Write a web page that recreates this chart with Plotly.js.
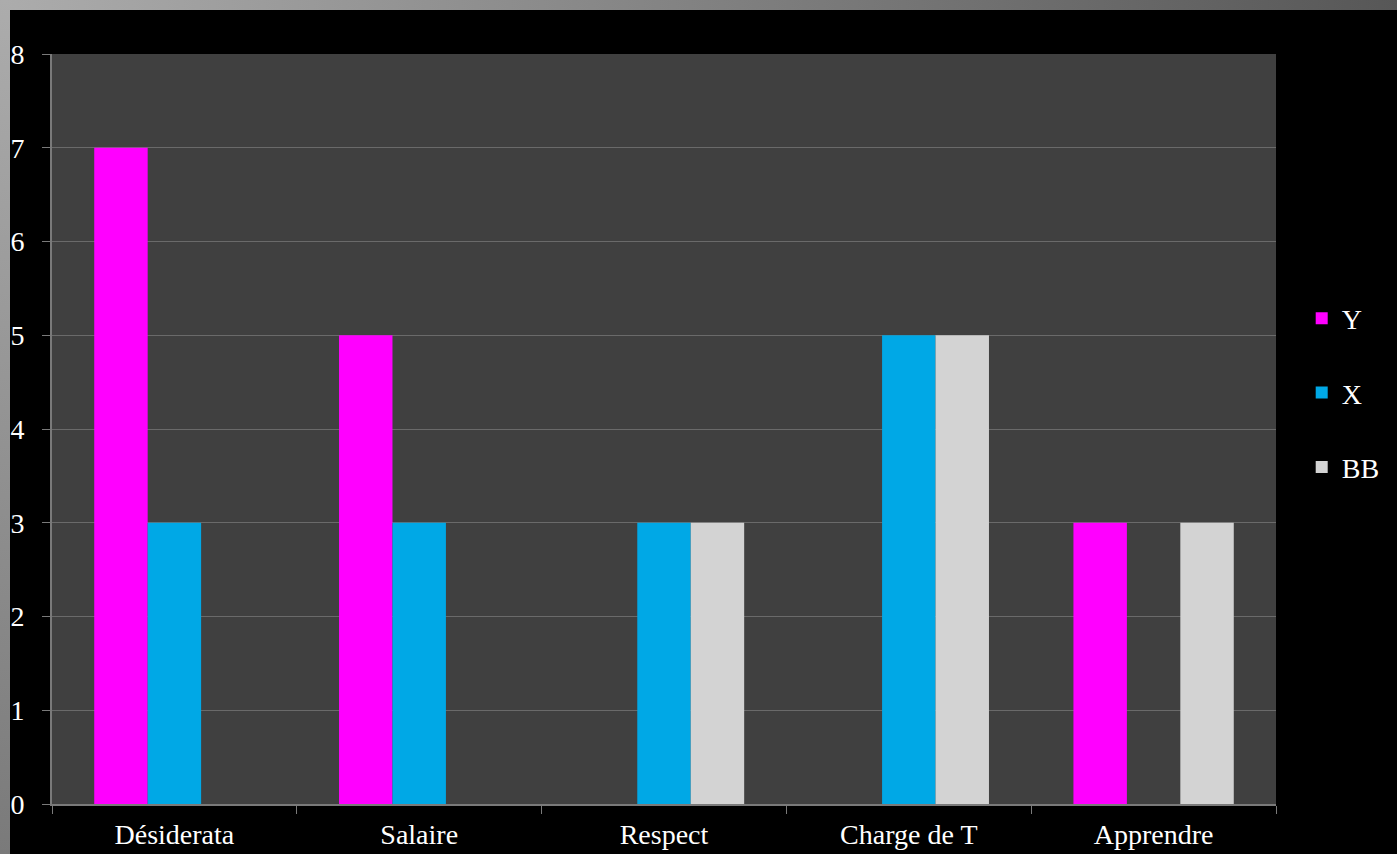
<!DOCTYPE html>
<html>
<head>
<meta charset="utf-8">
<script src="https://cdn.plot.ly/plotly-3.0.1.min.js"></script>
<style>
  html, body { margin: 0; padding: 0; background: #000; overflow: hidden; }
  #frame { position: absolute; left: 0; top: 0; width: 1397px; height: 854px; background: #000; }
  #topband { position: absolute; left: 0; top: 0; width: 1397px; height: 10px;
             background: linear-gradient(to right, #acacac, #575757); }
  #leftband { position: absolute; left: 0; top: 0; width: 10px; height: 854px;
              background: linear-gradient(to bottom, #acacac, #7a7a7a); }
  #chart { position: absolute; left: 10px; top: 10px; width: 1387px; height: 844px; }
</style>
</head>
<body>
<div id="frame"></div>
<div id="topband"></div>
<div id="leftband"></div>
<div id="chart"></div>
<script>
const categories = ["Désiderata", "Salaire", "Respect", "Charge de T", "Apprendre"];
const seriesY  = [7, 5, 0, 0, 3];
const seriesX  = [3, 3, 3, 5, 0];
const seriesBB = [0, 0, 3, 5, 3];
const yTicks = [0, 1, 2, 3, 4, 5, 6, 7, 8];

const fontFamily = "Liberation Serif, DejaVu Serif, serif";
const fontSize = 28;

const traces = [
  { name: "Y",  y: seriesY,  color: "#ff00ff" },
  { name: "X",  y: seriesX,  color: "#00a8e6" },
  { name: "BB", y: seriesBB, color: "#d3d3d3" }
].map(s => ({
  type: "bar",
  name: s.name,
  x: categories,
  y: s.y,
  legendgroup: s.name,
  marker: { color: s.color, line: { width: 0 } },
  hoverinfo: "x+y+name"
}));

const layout = {
  width: 1387,
  height: 844,
  paper_bgcolor: "#000000",
  plot_bgcolor: "#404040",
  margin: { l: 42, r: 121, t: 44, b: 50 },
  barmode: "group",
  bargap: 0.345,
  bargroupgap: 0,
  font: { family: fontFamily, size: fontSize, color: "#ffffff" },
  showlegend: true,
  legend: {
    x: 1.021, xanchor: "left",
    y: 0.548, yanchor: "middle",
    bgcolor: "rgba(0,0,0,0)",
    font: { family: fontFamily, size: fontSize, color: "#ffffff" },
    tracegroupgap: 35,
    traceorder: "grouped"
  },
  xaxis: {
    type: "category",
    showgrid: false,
    showline: true,
    linecolor: "#7a7a7a",
    linewidth: 2,
    ticks: "outside",
    tickson: "boundaries",
    ticklen: 8,
    tickwidth: 1,
    tickcolor: "#7a7a7a",
    ticklabelstandoff: 4,
    tickfont: { family: fontFamily, size: fontSize, color: "#ffffff" },
    zeroline: false
  },
  yaxis: {
    range: [0, 8],
    tickvals: yTicks,
    ticktext: yTicks.map(String),
    showgrid: true,
    gridcolor: "#6a6a6a",
    gridwidth: 1,
    showline: true,
    linecolor: "#7a7a7a",
    linewidth: 2,
    ticks: "outside",
    ticklen: 8,
    tickwidth: 1,
    tickcolor: "#7a7a7a",
    ticklabelstandoff: 12,
    tickfont: { family: fontFamily, size: fontSize, color: "#ffffff" },
    zeroline: false
  }
};

Plotly.newPlot("chart", traces, layout, { displayModeBar: false, staticPlot: true });
</script>
</body>
</html>
